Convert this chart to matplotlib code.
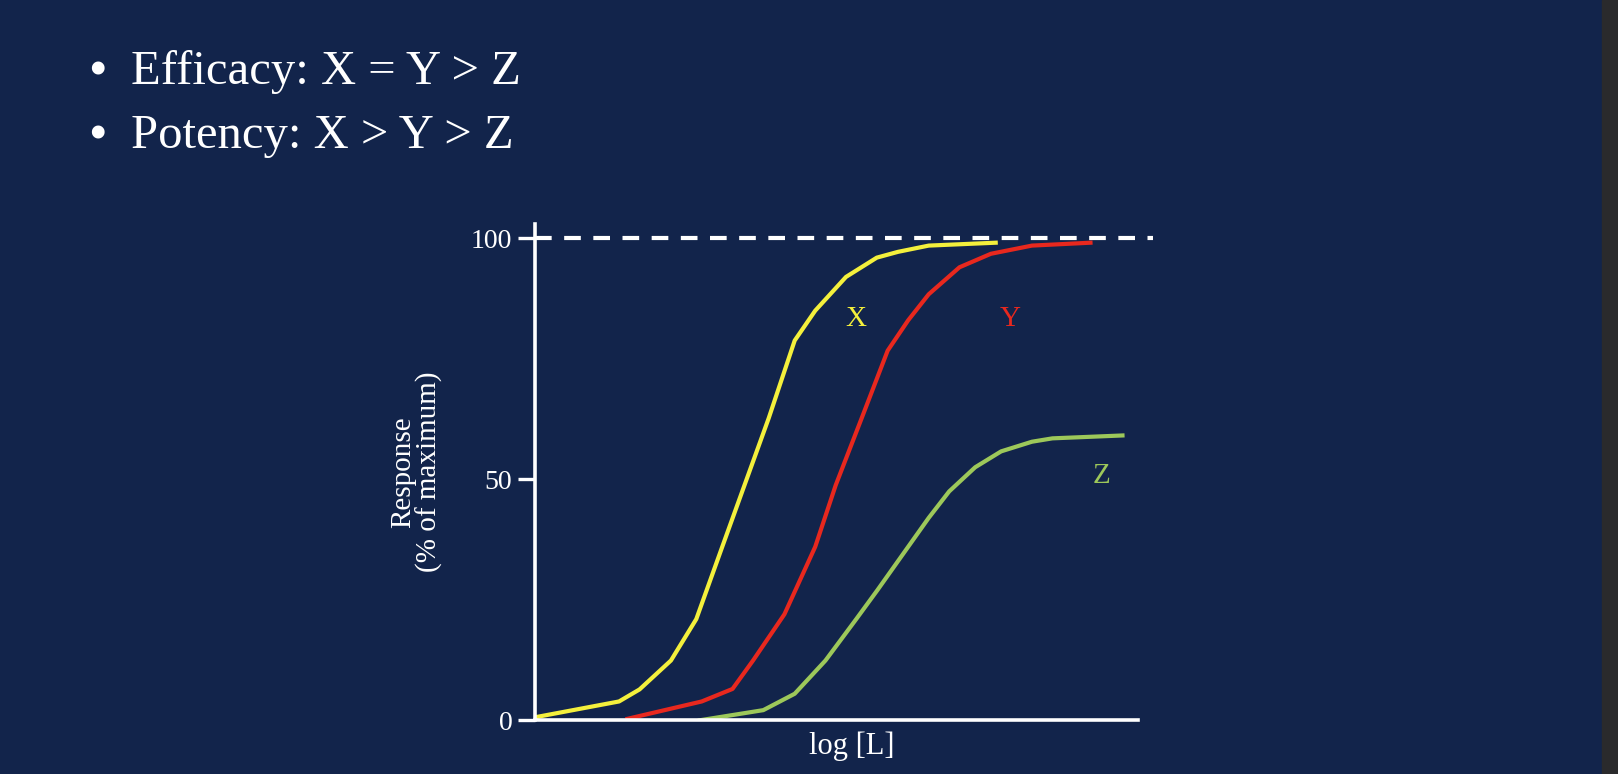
import matplotlib
matplotlib.use("Agg")
import matplotlib.pyplot as plt
from matplotlib.patches import Rectangle

x_X = [0, 1.4, 1.74, 2.26, 2.68, 3.11, 3.45, 3.88, 4.31, 4.65, 5.16, 5.67, 6.02, 6.53, 7.64]
y_X = [0.6, 3.9, 6.4, 12.4, 21, 36, 47.8, 62.7, 78.8, 85, 92, 96, 97.2, 98.5, 99.1]
x_Y = [1.54, 2.77, 3.28, 3.62, 4.14, 4.65, 4.99, 5.42, 5.85, 6.19, 6.53, 7.04, 7.56, 8.24, 9.21]
y_Y = [0.3, 3.9, 6.5, 12.4, 22, 36, 48.8, 62.7, 76.7, 83, 88.4, 94, 96.8, 98.5, 99.1]
x_Z = [2.74, 3.79, 4.31, 4.82, 5.33, 5.68, 6.19, 6.53, 6.87, 7.3, 7.73, 8.24, 8.58, 9.74]
y_Z = [0, 2.1, 5.5, 12.4, 21, 27, 36, 42, 47.5, 52.5, 55.8, 57.8, 58.5, 59.1]
yticks = [0, 50, 100]
bullets = ["Efficacy: X = Y > Z", "Potency: X > Y > Z"]

BG = "#12244b"
W, H = 1618, 774
S = 1618 / 1568
fig = plt.figure(figsize=(W/100, H/100), dpi=100, facecolor=BG)
fig.patches.append(Rectangle((1602/W, 0), 16/W, 1, transform=fig.transFigure,
                             color="#2a2a2c", zorder=0))
serif = ["Liberation Serif", "DejaVu Serif"]

fig.text(0.5, 1 + 14/H, "Efficacy and Potency", color="#e8281e", fontsize=44,
         style="italic", family=serif, ha="center", va="baseline")
for i, b in enumerate(bullets):
    y = 1 - (70 + i*62)*S/H
    fig.text(86*S/W, y, "•", color="white", fontsize=34, family=serif, va="center",
             weight="bold")
    fig.text(127*S/W, y, b, color="white", fontsize=35, family=serif, va="center")

px = 58.5 * S
py = 4.67 * S
ax = fig.add_axes([518*S/W, 1-698*S/H, 10.5*px/W, 103*py/H])
ax.set_facecolor("none")
ax.set_xlim(0, 10.5)
ax.set_ylim(0, 103)
ax.plot(x_X, y_X, color="#f4f03c", lw=3)
ax.plot(x_Y, y_Y, color="#e8281e", lw=3)
ax.plot(x_Z, y_Z, color="#9dc85a", lw=3)
ax.plot([0, 10.24], [100, 100], color="white", lw=3, ls=(0, (4, 3)))
ax.text(5.32, 83.3, "X", color="#f4f03c", fontsize=21, family=serif, ha="center", va="center")
ax.text(7.88, 83.3, "Y", color="#e8281e", fontsize=21, family=serif, ha="center", va="center")
ax.text(9.40, 50.7, "Z", color="#9dc85a", fontsize=21, family=serif, ha="center", va="center")

for s in ["top", "right"]:
    ax.spines[s].set_visible(False)
for s in ["left", "bottom"]:
    ax.spines[s].set_color("white")
    ax.spines[s].set_linewidth(2.6)
ax.spines["bottom"].set_bounds(0, 10)
ax.spines["left"].set_bounds(0, 103)
ax.set_xticks([])
ax.set_yticks(yticks)
ax.set_yticklabels([str(t) for t in yticks], family=serif, fontsize=20, color="white")
ax.tick_params(axis="y", length=12, width=2.4, color="white", pad=4)
ax.set_xlabel("log [L]", color="white", fontsize=22, family=serif, labelpad=8)
ax.set_ylabel("Response\n(% of maximum)", color="white", fontsize=21, family=serif,
              labelpad=20, linespacing=1.0)

fig.savefig("out.png", dpi=100, facecolor=BG)
